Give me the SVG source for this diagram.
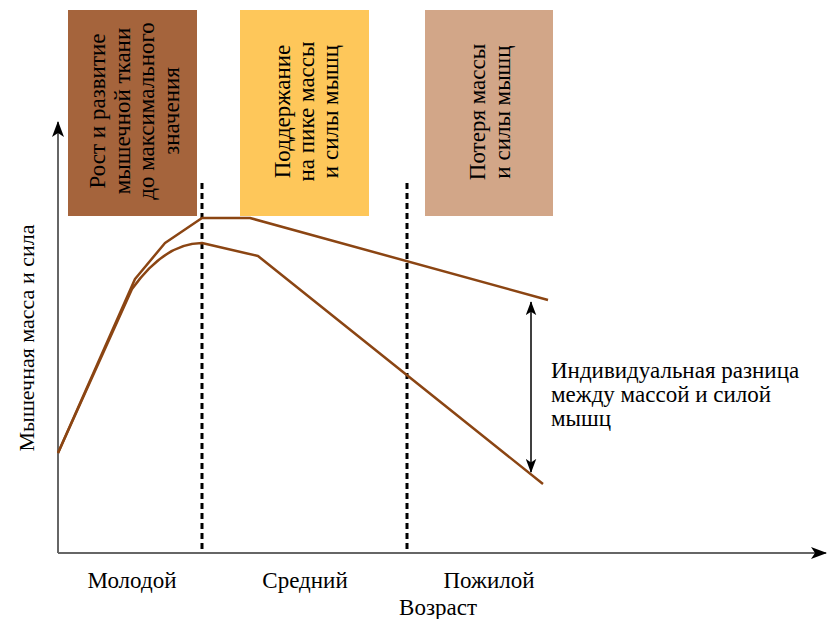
<svg xmlns="http://www.w3.org/2000/svg" width="832" height="619" viewBox="0 0 832 619" font-family="'Liberation Serif', 'Times New Roman', serif">
<style>
text{fill:#000}
.box{font-size:23px}
.lbl{font-size:23px}
.axis{stroke:#666;stroke-width:2;fill:none}
.curve{stroke:#8B4513;stroke-width:2.5;fill:none;stroke-linejoin:round}
.dot{stroke:#000;stroke-width:3;stroke-dasharray:6 4;fill:none}
</style>
<defs>
<marker id="ah" viewBox="0 0 16 12" refX="15" refY="6" markerWidth="16" markerHeight="12" markerUnits="userSpaceOnUse" orient="auto-start-reverse">
<path d="M0,0 L16,6 L0,12 L4,6 Z" fill="#000"/>
</marker>
<marker id="ah2" viewBox="0 0 16 12" refX="15" refY="6" markerWidth="14" markerHeight="11" markerUnits="userSpaceOnUse" orient="auto-start-reverse">
<path d="M0,0 L16,6 L0,12 L4,6 Z" fill="#000"/>
</marker>
</defs>

<g id="box-growth">
<rect x="68" y="10" width="129" height="206" fill="#A5643C"/>
<g class="box" text-anchor="middle">
<text transform="translate(105,111) rotate(-90)">Рост и развитие</text>
<text transform="translate(129.5,111) rotate(-90)">мышечной ткани</text>
<text transform="translate(154,111) rotate(-90)">до максимального</text>
<text transform="translate(178.5,111) rotate(-90)">значения</text>
</g>
</g>

<g id="box-peak">
<rect x="240" y="10" width="129" height="206" fill="#FEC75A"/>
<g class="box" text-anchor="middle">
<text transform="translate(290,111.5) rotate(-90)">Поддержание</text>
<text transform="translate(314,111.5) rotate(-90)">на пике массы</text>
<text transform="translate(338,111.5) rotate(-90)">и силы мышц</text>
</g>
</g>

<g id="box-loss">
<rect x="425" y="10" width="128" height="206" fill="#D2A688"/>
<g class="box" text-anchor="middle">
<text transform="translate(485,112) rotate(-90)">Потеря массы</text>
<text transform="translate(510,112) rotate(-90)">и силы мышц</text>
</g>
</g>

<g id="axes">
<line class="axis" x1="58" y1="553" x2="58" y2="122" marker-end="url(#ah)"/>
<line class="axis" x1="58" y1="553" x2="826" y2="553" marker-end="url(#ah)"/>
<text font-size="22" text-anchor="middle" transform="translate(34,338) rotate(-90)">Мышечная масса и сила</text>
<text class="lbl" text-anchor="middle" x="438" y="615">Возраст</text>
</g>

<g id="labels-age" class="lbl" text-anchor="middle">
<text x="132" y="588">Молодой</text>
<text x="305" y="588">Средний</text>
<text x="489" y="588">Пожилой</text>
</g>

<g id="connectors">
<line class="dot" x1="202" y1="183" x2="202" y2="553"/>
<line class="dot" x1="407" y1="183" x2="407" y2="553"/>
<path class="curve" d="M58,453 L135,279 L165,243 L202,218 L250,218 L548,300"/>
<path class="curve" d="M58,453 L132,289 Q165,243 202,243 L258,256 L543,484"/>
<line x1="531" y1="302" x2="531" y2="472" stroke="#000" stroke-width="1.5" marker-start="url(#ah2)" marker-end="url(#ah2)"/>
</g>

<g id="note" class="lbl">
<text x="551" y="378">Индивидуальная разница</text>
<text x="551" y="402">между массой и силой</text>
<text x="551" y="426">мышц</text>
</g>
</svg>
